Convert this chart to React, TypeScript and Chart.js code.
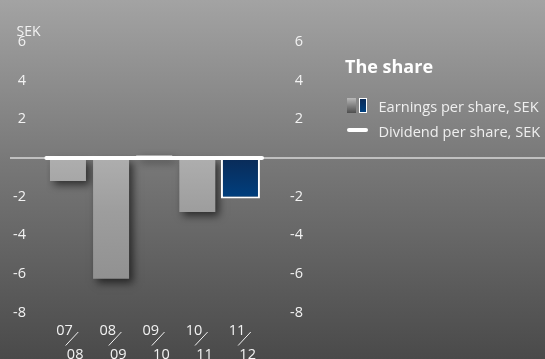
import React, { useEffect, useRef } from "react";
import { Chart, registerables } from "chart.js";

Chart.register(...registerables);

// ---- data ----
const categories = ["07/08", "08/09", "09/10", "10/11", "11/12"];
const earningsPerShare = [-1.2, -6.25, 0.15, -2.8, -2.1];
const dividendPerShare = [0, 0, 0, 0, 0];
const yMin = -8;
const yMax = 6;
const yStep = 2;
const unitLabel = "SEK";
const legendTitle = "The share";
const legendLabels = ["Earnings per share, SEK", "Dividend per share, SEK"];

const FONT = "'Open Sans', 'Noto Sans', sans-serif";
const TEXT = "#f2f2f2";

const lastIdx = earningsPerShare.length - 1;

const zeroLinePlugin = {
  id: "zeroLine",
  beforeDatasetsDraw(chart: any) {
    const y = chart.scales.y.getPixelForValue(0);
    const ctx = chart.ctx;
    ctx.save();
    ctx.strokeStyle = "#d9d9d9";
    ctx.lineWidth = 1.5;
    ctx.beginPath();
    ctx.moveTo(10, y);
    ctx.lineTo(chart.width, y);
    ctx.stroke();
    ctx.restore();
  },
};

const shadowPlugin = {
  id: "barShadow",
  beforeDatasetDraw(chart: any, args: any) {
    if (args.index === 0) {
      const ctx = chart.ctx;
      ctx.save();
      ctx.shadowColor = "rgba(0,0,0,0.6)";
      ctx.shadowBlur = 8;
      ctx.shadowOffsetX = 4;
      ctx.shadowOffsetY = 4;
    }
  },
  afterDatasetDraw(chart: any, args: any) {
    if (args.index === 0) chart.ctx.restore();
  },
};

const xLabelPlugin = {
  id: "xLabels",
  afterDraw(chart: any) {
    const ctx = chart.ctx;
    const xs = chart.scales.x;
    const bottom = chart.chartArea.bottom;
    ctx.save();
    ctx.fillStyle = TEXT;
    ctx.strokeStyle = TEXT;
    ctx.lineWidth = 1;
    ctx.font = `14.5px ${FONT}`;
    ctx.textAlign = "center";
    ctx.textBaseline = "alphabetic";
    categories.forEach((c, i) => {
      const [a, b] = c.split("/");
      const cx = xs.getPixelForValue(i);
      ctx.fillText(a, cx - 3.4, bottom + 22.2);
      ctx.fillText(b, cx + 7.2, bottom + 46.2);
      ctx.beginPath();
      ctx.moveTo(cx - 2.3, bottom + 33);
      ctx.lineTo(cx + 10.3, bottom + 19.5);
      ctx.stroke();
    });
    ctx.restore();
  },
};

function App() {
  const ref = useRef<HTMLCanvasElement | null>(null);

  useEffect(() => {
    if (!ref.current) return;
    const grayBg = (c: any) => {
      const chart = c.chart;
      if (!chart.chartArea) return "#aaaaaa";
      const ys = chart.scales.y;
      const g = chart.ctx.createLinearGradient(0, ys.getPixelForValue(0), 0, ys.getPixelForValue(yMin));
      g.addColorStop(0, "#aeaeae");
      g.addColorStop(0.35, "#9d9d9d");
      g.addColorStop(1, "#8b8b8b");
      return g;
    };
    const blueBg = (c: any) => {
      const chart = c.chart;
      if (!chart.chartArea) return "#03336b";
      const ys = chart.scales.y;
      const g = chart.ctx.createLinearGradient(0, ys.getPixelForValue(0), 0, ys.getPixelForValue(earningsPerShare[lastIdx]));
      g.addColorStop(0, "#0a2b58");
      g.addColorStop(1, "#00407f");
      return g;
    };

    const tickFont = { family: FONT, size: 14.5 };
    const yTickCb = (v: any) => (Number(v) === 0 ? "" : v);

    const chart = new Chart(ref.current, {
      type: "bar",
      data: {
        labels: categories,
        datasets: [
          {
            type: "bar",
            label: legendLabels[0],
            data: earningsPerShare.map((v, i) => (i === lastIdx ? null : v)),
            backgroundColor: grayBg,
            borderWidth: 0,
            barPercentage: 0.835,
            categoryPercentage: 1,
            grouped: false,
            order: 2,
            xAxisID: "x",
            yAxisID: "y",
          } as any,
          {
            type: "bar",
            label: legendLabels[0],
            data: earningsPerShare.map((v, i) => (i === lastIdx ? v : null)),
            backgroundColor: blueBg,
            borderColor: "#ffffff",
            borderWidth: 2,
            borderSkipped: false,
            barPercentage: 0.904,
            categoryPercentage: 1,
            grouped: false,
            order: 1,
            xAxisID: "x",
            yAxisID: "y",
          } as any,
          {
            type: "line",
            label: legendLabels[1],
            data: dividendPerShare.flatMap((v, i) => [
              { x: i - 0.5, y: v },
              { x: i + 0.5, y: v },
            ]),
            borderColor: "#ffffff",
            borderWidth: 4,
            borderCapStyle: "round",
            pointRadius: 0,
            clip: false,
            order: 0,
            xAxisID: "x2",
            yAxisID: "y",
          } as any,
        ],
      },
      options: {
        animation: false,
        responsive: false,
        devicePixelRatio: 1,
        layout: { padding: { left: 0, right: 242, top: 42, bottom: 46.5 } },
        plugins: { legend: { display: false }, tooltip: { enabled: false } },
        scales: {
          x: {
            type: "category",
            display: false,
            offset: true,
          },
          x2: {
            type: "linear",
            display: false,
            offset: false,
            min: -0.5,
            max: categories.length - 0.5,
          },
          y: {
            position: "left",
            min: yMin,
            max: yMax,
            grid: { display: false, drawTicks: false },
            border: { display: false },
            ticks: { stepSize: yStep, color: TEXT, font: tickFont, padding: 20.4, callback: yTickCb },
            afterFit: (s: any) => {
              s.width = 46.4;
            },
          },
          y2: {
            position: "right",
            min: yMin,
            max: yMax,
            grid: { display: false, drawTicks: false },
            border: { display: false },
            ticks: { stepSize: yStep, color: TEXT, font: tickFont, padding: 0, crossAlign: "far", callback: yTickCb },
            afterFit: (s: any) => {
              s.width = 41;
            },
          },
        },
      } as any,
      plugins: [zeroLinePlugin, shadowPlugin, xLabelPlugin],
    });
    return () => chart.destroy();
  }, []);

  const txt: React.CSSProperties = {
    position: "absolute",
    whiteSpace: "nowrap",
    fontFamily: FONT,
    color: "#efefef",
    lineHeight: 1,
    margin: 0,
  };

  return (
    <div
      style={{
        position: "fixed",
        left: 0,
        top: 0,
        width: 545,
        height: 359,
        overflow: "hidden",
        background: "linear-gradient(to bottom, #a3a3a3 0%, #787878 45%, #4a4a4a 100%)",
      }}
    >
      <canvas ref={ref} width={545} height={359} style={{ position: "absolute", left: 0, top: 0 }} />
      <div style={{ ...txt, left: 16.5, top: 23.5, fontSize: 14, color: TEXT }}>{unitLabel}</div>
      <div style={{ ...txt, left: 345, top: 57.3, fontSize: 18, fontWeight: 700, color: "#ffffff" }}>{legendTitle}</div>
      <div
        style={{
          position: "absolute",
          left: 346.7,
          top: 98.3,
          width: 9.3,
          height: 15,
          background: "linear-gradient(to bottom, #b8b8b8, #4e4e4e)",
        }}
      />
      <div
        style={{
          position: "absolute",
          left: 359,
          top: 98.3,
          width: 8.3,
          height: 15,
          boxSizing: "border-box",
          border: "1.5px solid #ffffff",
          background: "linear-gradient(to bottom, #0a2b58, #00407f)",
        }}
      />
      <div style={{ ...txt, left: 378.5, top: 99.2, fontSize: 14.6 }}>{legendLabels[0]}</div>
      <div
        style={{
          position: "absolute",
          left: 346.7,
          top: 127.5,
          width: 21.6,
          height: 4,
          borderRadius: 2,
          background: "#ffffff",
        }}
      />
      <div style={{ ...txt, left: 378.5, top: 123.9, fontSize: 14.6 }}>{legendLabels[1]}</div>
    </div>
  );
}

export default App;
